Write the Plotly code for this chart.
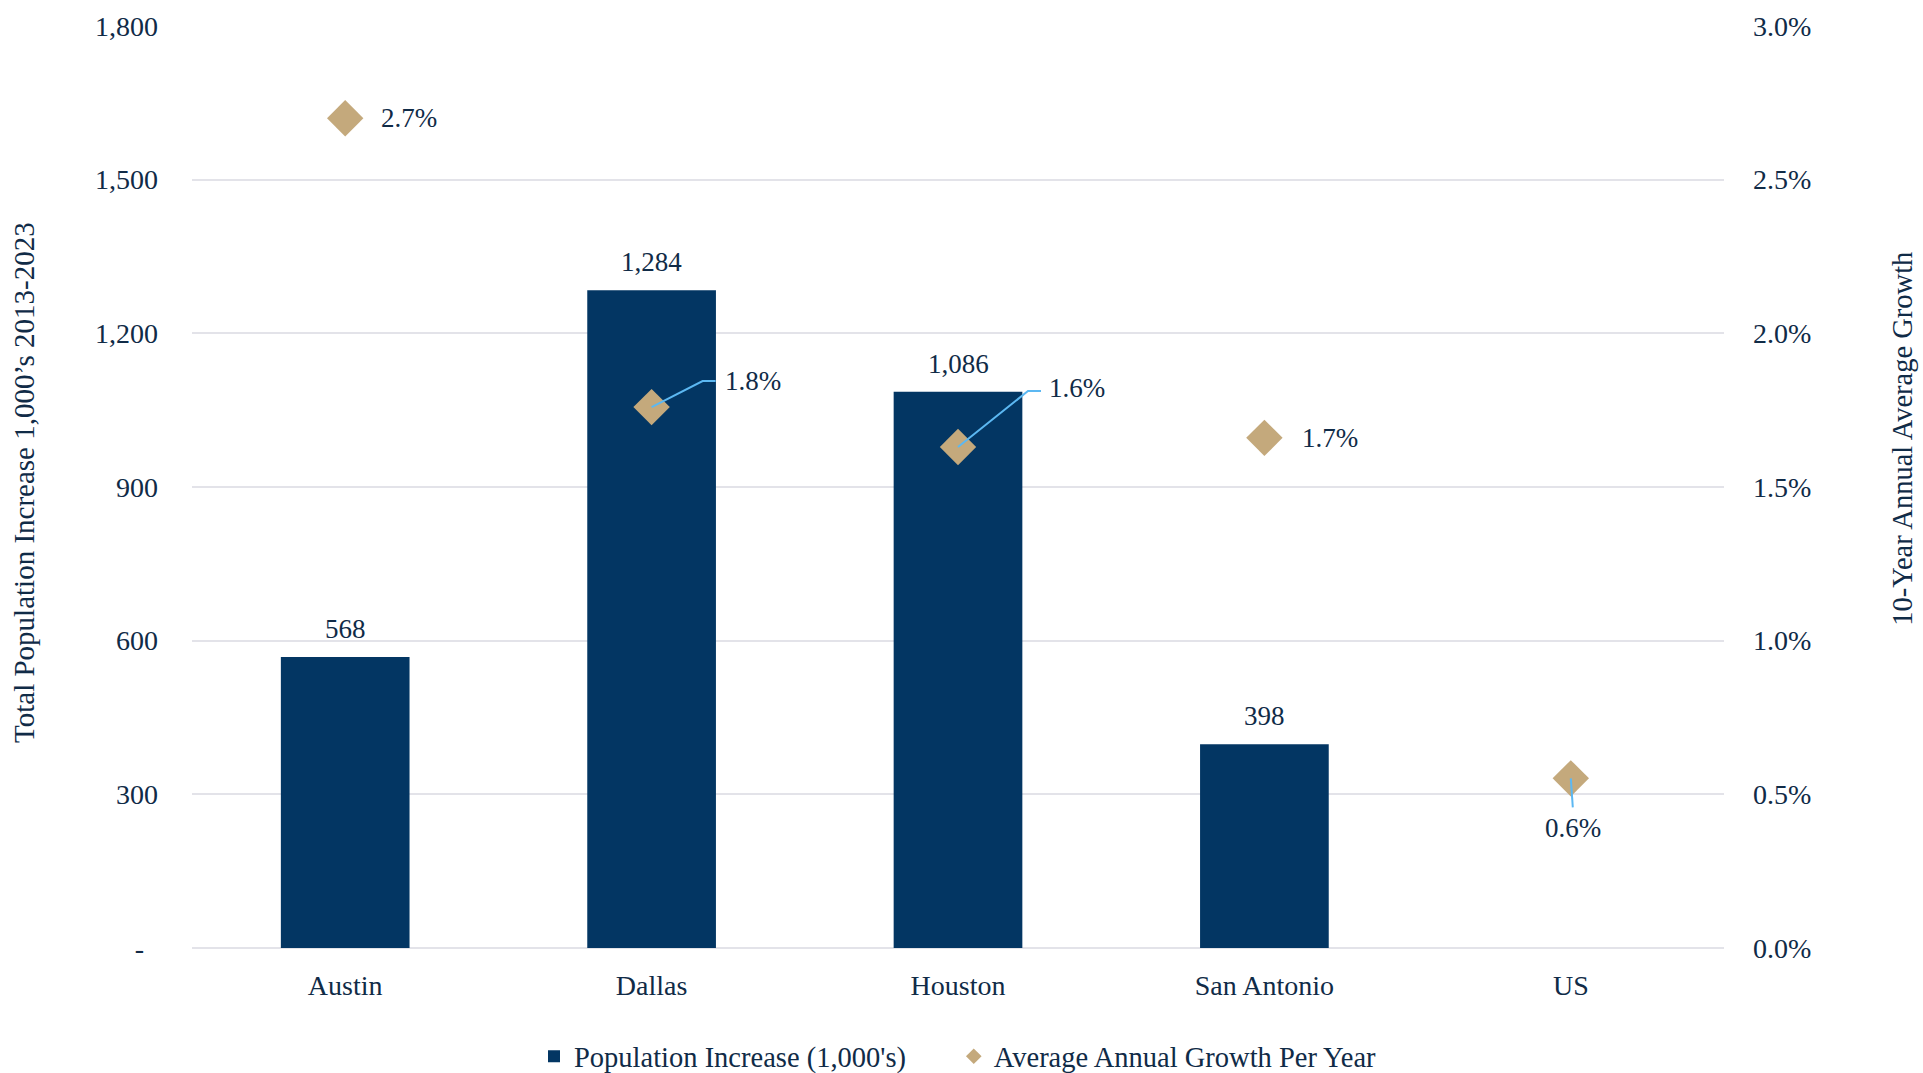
import plotly.graph_objects as go

# ---- data ----
cities = ["Austin", "Dallas", "Houston", "San Antonio", "US"]
pop_increase = [568, 1284, 1086, 398, None]          # thousands, 2013-2023
avg_growth = [0.0270, 0.0176, 0.0163, 0.0166, 0.00552]  # 10-year average annual growth

left_tickvals = [0, 300, 600, 900, 1200, 1500, 1800]
left_ticktext = ["-\u00a0\u00a0", "300", "600", "900", "1,200", "1,500", "1,800"]
right_tickvals = [0.0, 0.005, 0.010, 0.015, 0.020, 0.025, 0.030]

# ---- styling ----
FONT = "Liberation Serif"
TEXT = "#102B47"
NAVY = "#033663"
TAN = "#C4A97C"
LEADER = "#5CB8F2"
GRID = "#E3E3E9"
FS = 28
LEGEND_PAD = "\u00a0" * 6  # extra room between the two legend entries

# growth label placement (pixel offsets from the marker) and optional leader paths
growth_label_style = {
    "Austin":      dict(dx=34, dy=0, anchor="left", leader=None),
    "Dallas":      dict(dx=71, dy=26, anchor="left", leader="M0,0 L51,26 L64,26"),
    "Houston":     dict(dx=89, dy=59, anchor="left", leader="M0,0 L70,56 L83,56"),
    "San Antonio": dict(dx=36, dy=0, anchor="left", leader=None),
    "US":          dict(dx=2, dy=-50, anchor="center", leader="M0,0 L2,-29"),
}

fig = go.Figure()

fig.add_trace(go.Bar(
    x=cities, y=pop_increase, name="Population Increase (1,000's)" + LEGEND_PAD,
    marker=dict(color=NAVY, line=dict(width=0)),
    yaxis="y", hoverinfo="skip",
))

fig.add_trace(go.Scatter(
    x=cities, y=avg_growth, name="Average Annual Growth Per Year",
    mode="markers", marker=dict(symbol="diamond", size=28, color=TAN, line=dict(width=0)),
    yaxis="y2", hoverinfo="skip",
))

shapes = []
annotations = []

# value labels above bars
for c, v in zip(cities, pop_increase):
    if v is None:
        continue
    annotations.append(dict(
        x=c, y=v, xref="x", yref="y", text=f"{v:,}", showarrow=False,
        yshift=28, xanchor="center", yanchor="middle",
        font=dict(family=FONT, size=27, color=TEXT),
    ))

# growth labels with leader lines
for c, g in zip(cities, avg_growth):
    st = growth_label_style[c]
    annotations.append(dict(
        x=c, y=g, xref="x", yref="y2", text=f"{g * 100:.1f}%", showarrow=False,
        xshift=st["dx"], yshift=st["dy"], xanchor=st["anchor"], yanchor="middle",
        font=dict(family=FONT, size=27, color=TEXT),
    ))
    if st["leader"]:
        shapes.append(dict(
            type="path", xref="x", yref="y2", xsizemode="pixel", ysizemode="pixel",
            xanchor=c, yanchor=g, path=st["leader"],
            line=dict(color=LEADER, width=2), layer="above",
        ))

# axis titles
annotations.append(dict(
    x=-0.1093, y=0.505, xref="paper", yref="paper", showarrow=False, textangle=-90,
    text="Total Population Increase 1,000\u2019s 2013-2023",
    xanchor="center", yanchor="middle", font=dict(family=FONT, size=29, color=TEXT),
))
annotations.append(dict(
    x=1.116, y=0.552, xref="paper", yref="paper", showarrow=False, textangle=-90,
    text="10-Year Annual Average Growth",
    xanchor="center", yanchor="middle", font=dict(family=FONT, size=28.5, color=TEXT),
))

fig.update_layout(
    width=1923, height=1073,
    margin=dict(l=192, r=199, t=26, b=125, autoexpand=False),
    paper_bgcolor="white", plot_bgcolor="white",
    font=dict(family=FONT, size=FS, color=TEXT),
    bargap=0.58,
    showlegend=True,
    legend=dict(
        orientation="h", x=0.5, xanchor="center", y=-0.118, yanchor="middle",
        font=dict(family=FONT, size=28.5, color=TEXT), itemsizing="constant",
        bgcolor="rgba(0,0,0,0)",
    ),
    xaxis=dict(
        type="category", showgrid=False, showline=False, zeroline=False,
        ticks="", ticklabelstandoff=18, tickfont=dict(family=FONT, size=FS, color=TEXT),
    ),
    yaxis=dict(
        range=[0, 1800], tickvals=left_tickvals, ticktext=left_ticktext,
        showgrid=True, gridcolor=GRID, gridwidth=2,
        zeroline=True, zerolinecolor=GRID, zerolinewidth=2,
        showline=False, ticks="", ticklabelstandoff=33,
        tickfont=dict(family=FONT, size=FS, color=TEXT),
    ),
    yaxis2=dict(
        overlaying="y", side="right", range=[0, 0.03], tickvals=right_tickvals,
        tickformat=".1%", showgrid=False, zeroline=False, showline=False,
        ticks="", ticklabelstandoff=28,
        tickfont=dict(family=FONT, size=FS, color=TEXT),
    ),
    shapes=shapes,
    annotations=annotations,
)

fig.write_html("out.html")
